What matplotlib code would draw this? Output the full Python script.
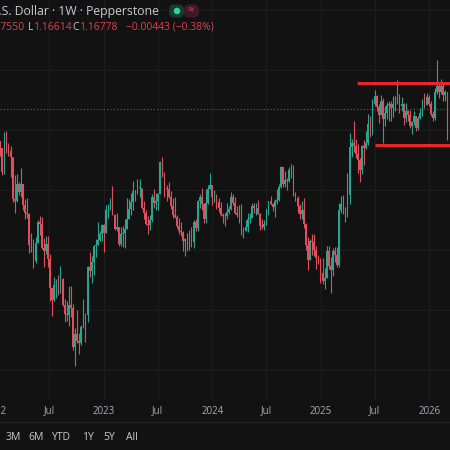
import pandas as pd
import matplotlib.pyplot as plt
import matplotlib.dates as mdates
from matplotlib.patches import FancyBboxPatch, Circle

BG = "#121212"
UP = "#26a690"
DOWN = "#e24f5c"
GRID = "#1d1d1d"
TXT = "#c8cad0"

# weekly EUR/USD candles, first week starts 2022-01-03
first_open = 1.1370

week_close = [
    # 2022
    1.1359, 1.1412, 1.1347, 1.1147, 1.1452, 1.1349, 1.1321, 1.1271, 1.0928, 1.0911,
    1.1050, 1.0983, 1.1048, 1.0877, 1.0808, 1.0796, 1.0545, 1.0551, 1.0411, 1.0562,
    1.0734, 1.0720, 1.0518, 1.0495, 1.0554, 1.0428, 1.0184, 1.0080, 1.0212, 1.0222,
    1.0182, 1.0259, 1.0039, 0.9965, 0.9955, 1.0040, 1.0015, 0.9690, 0.9802, 0.9740,
    0.9722, 0.9862, 0.9965, 0.9959, 1.0355, 1.0326, 1.0398, 1.0535, 1.0540, 1.0585,
    1.0630, 1.0705,
    # 2023
    1.0645, 1.0830, 1.0855, 1.0870, 1.0795, 1.0678, 1.0694, 1.0546, 1.0636, 1.0640,
    1.0672, 1.0760, 1.0840, 1.0902, 1.0992, 1.0990, 1.1020, 1.1020, 1.0850, 1.0805,
    1.0720, 1.0710, 1.0750, 1.0940, 1.0895, 1.0910, 1.0967, 1.1230, 1.1125, 1.1015,
    1.1005, 1.0945, 1.0870, 1.0795, 1.0775, 1.0700, 1.0660, 1.0650, 1.0575, 1.0590,
    1.0510, 1.0595, 1.0565, 1.0730, 1.0685, 1.0910, 1.0940, 1.0880, 1.0760, 1.0895,
    1.1010, 1.1040,
    # 2024
    1.0945, 1.0950, 1.0897, 1.0850, 1.0790, 1.0785, 1.0780, 1.0820, 1.0840, 1.0940,
    1.0890, 1.0810, 1.0790, 1.0837, 1.0645, 1.0655, 1.0693, 1.0760, 1.0770, 1.0870,
    1.0847, 1.0850, 1.0800, 1.0700, 1.0693, 1.0713, 1.0840, 1.0905, 1.0885, 1.0855,
    1.0910, 1.0915, 1.1025, 1.1190, 1.1048, 1.1085, 1.1075, 1.1165, 1.1165, 1.0975,
    1.0937, 1.0867, 1.0797, 1.0835, 1.0720, 1.0545, 1.0418, 1.0577, 1.0567, 1.0500,
    1.0430, 1.0425, 1.0308,
    # 2025
    1.0245, 1.0270, 1.0495, 1.0365, 1.0330, 1.0495, 1.0460, 1.0375, 1.0835, 1.0880,
    1.0815, 1.0830, 1.0960, 1.1360, 1.1395, 1.1365, 1.1300, 1.1250, 1.1165, 1.1365,
    1.1350, 1.1395, 1.1550, 1.1520, 1.1720, 1.1780, 1.1690, 1.1625, 1.1740, 1.1590,
    1.1640, 1.1705, 1.1720, 1.1685, 1.1718, 1.1735, 1.1745, 1.1700, 1.1715, 1.1600,
    1.1655, 1.1625, 1.1535, 1.1565, 1.1620, 1.1515, 1.1600, 1.1640, 1.1740, 1.1710,
    1.1775, 1.1720,
    # 2026
    1.1635, 1.1600, 1.1820, 1.1870, 1.1815, 1.1870, 1.1790, 1.1815, 1.1530,
]

week_high = [
    1.1376, 1.1482, 1.1369, 1.1349, 1.1483, 1.1495, 1.1395, 1.1367, 1.1233, 1.1121,
    1.1137, 1.1070, 1.1185, 1.1053, 1.0925, 1.0936, 1.0810, 1.0642, 1.0593, 1.0607,
    1.0748, 1.0787, 1.0774, 1.0601, 1.0613, 1.0615, 1.0463, 1.0186, 1.0278, 1.0255,
    1.0294, 1.0368, 1.0267, 1.0090, 1.0079, 1.0198, 1.0198, 1.0050, 0.9853, 0.9999,
    0.9809, 0.9875, 1.0093, 0.9976, 1.0364, 1.0481, 1.0448, 1.0545, 1.0594, 1.0737,
    1.0658, 1.0714,
    1.0713, 1.0874, 1.0887, 1.0929, 1.1033, 1.0803, 1.0805, 1.0694, 1.0692, 1.0700,
    1.0760, 1.0930, 1.0925, 1.0973, 1.1075, 1.1000, 1.1095, 1.1092, 1.1007, 1.0905,
    1.0830, 1.0780, 1.0790, 1.0970, 1.1012, 1.0975, 1.0975, 1.1245, 1.1276, 1.1150,
    1.1045, 1.1064, 1.0990, 1.0935, 1.0945, 1.0795, 1.0770, 1.0735, 1.0660, 1.0600,
    1.0640, 1.0670, 1.0695, 1.0750, 1.0756, 1.0915, 1.0965, 1.1017, 1.0890, 1.1008,
    1.1040, 1.1140,
    1.1045, 1.0998, 1.0966, 1.0932, 1.0897, 1.0808, 1.0806, 1.0888, 1.0865, 1.0981,
    1.0964, 1.0942, 1.0865, 1.0876, 1.0885, 1.0690, 1.0753, 1.0812, 1.0811, 1.0895,
    1.0888, 1.0888, 1.0916, 1.0812, 1.0761, 1.0749, 1.0845, 1.0910, 1.0948, 1.0893,
    1.0926, 1.1008, 1.1047, 1.1202, 1.1186, 1.1155, 1.1100, 1.1190, 1.1214, 1.1210,
    1.0985, 1.0951, 1.0880, 1.0905, 1.0937, 1.0725, 1.0610, 1.0595, 1.0630, 1.0630,
    1.0530, 1.0456, 1.0435,
    1.0437, 1.0353, 1.0532, 1.0533, 1.0442, 1.0513, 1.0529, 1.0528, 1.0888, 1.0947,
    1.0955, 1.0857, 1.1144, 1.1473, 1.1424, 1.1573, 1.1425, 1.1380, 1.1265, 1.1375,
    1.1420, 1.1495, 1.1630, 1.1615, 1.1754, 1.1830, 1.1790, 1.1720, 1.1789, 1.1770,
    1.1700, 1.1730, 1.1743, 1.1740, 1.1780, 1.1780, 1.1918, 1.1800, 1.1778, 1.1725,
    1.1728, 1.1670, 1.1668, 1.1575, 1.1655, 1.1620, 1.1615, 1.1680, 1.1760, 1.1805,
    1.1808, 1.1790,
    1.1740, 1.1660, 1.1850, 1.2082, 1.1900, 1.1925, 1.1880, 1.1830, 1.1820,
]

week_low = [
    1.1272, 1.1313, 1.1286, 1.1121, 1.1133, 1.1306, 1.1281, 1.1106, 1.0897, 1.0806,
    1.0900, 1.0961, 1.0945, 1.0836, 1.0758, 1.0766, 1.0471, 1.0483, 1.0349, 1.0389,
    1.0556, 1.0627, 1.0507, 1.0359, 1.0469, 1.0359, 1.0071, 0.9952, 1.0075, 1.0097,
    1.0123, 1.0141, 1.0032, 0.9901, 0.9910, 0.9864, 0.9945, 0.9669, 0.9536, 0.9725,
    0.9632, 0.9705, 0.9852, 0.9730, 0.9899, 1.0271, 1.0222, 1.0289, 1.0444, 1.0569,
    1.0573, 1.0577,
    1.0483, 1.0701, 1.0766, 1.0833, 1.0795, 1.0668, 1.0655, 1.0533, 1.0533, 1.0524,
    1.0516, 1.0711, 1.0760, 1.0788, 1.0832, 1.0910, 1.0965, 1.0940, 1.0845, 1.0760,
    1.0705, 1.0635, 1.0665, 1.0730, 1.0850, 1.0835, 1.0833, 1.0963, 1.1110, 1.0945,
    1.0912, 1.0930, 1.0845, 1.0765, 1.0770, 1.0686, 1.0632, 1.0615, 1.0488, 1.0448,
    1.0495, 1.0500, 1.0522, 1.0516, 1.0655, 1.0655, 1.0850, 1.0830, 1.0723, 1.0722,
    1.0880, 1.1005,
    1.0877, 1.0900, 1.0845, 1.0820, 1.0780, 1.0723, 1.0696, 1.0762, 1.0796, 1.0837,
    1.0873, 1.0801, 1.0774, 1.0724, 1.0622, 1.0601, 1.0665, 1.0650, 1.0724, 1.0765,
    1.0805, 1.0788, 1.0800, 1.0668, 1.0671, 1.0666, 1.0710, 1.0791, 1.0876, 1.0825,
    1.0777, 1.0880, 1.0909, 1.1020, 1.1025, 1.1026, 1.1001, 1.1068, 1.1100, 1.0950,
    1.0907, 1.0810, 1.0761, 1.0760, 1.0682, 1.0497, 1.0335, 1.0423, 1.0460, 1.0452,
    1.0343, 1.0380, 1.0226,
    1.0213, 1.0178, 1.0267, 1.0345, 1.0141, 1.0285, 1.0399, 1.0358, 1.0360, 1.0805,
    1.0797, 1.0733, 1.0778, 1.0880, 1.1275, 1.1315, 1.1265, 1.1145, 1.1065, 1.1130,
    1.1210, 1.1345, 1.1375, 1.1440, 1.1455, 1.1700, 1.1660, 1.1556, 1.1640, 1.1392,
    1.1530, 1.1590, 1.1573, 1.1573, 1.1608, 1.1660, 1.1715, 1.1645, 1.1655, 1.1540,
    1.1570, 1.1575, 1.1520, 1.1470, 1.1540, 1.1490, 1.1500, 1.1590, 1.1615, 1.1680,
    1.1705, 1.1700,
    1.1620, 1.1575, 1.1580, 1.1800, 1.1770, 1.1800, 1.1740, 1.1740, 1.1420,
]

last_price = 1.16778
range_top = 1.189
range_bottom = 1.1375
range_top_start = "2025-05-01"
range_bottom_start = "2025-07-02"

x_ticks = ["2022-01-01", "2022-07-01", "2023-01-01", "2023-07-01", "2024-01-01",
           "2024-07-01", "2025-01-01", "2025-07-01", "2026-01-01"]
x_tick_labels = ["2022", "Jul", "2023", "Jul", "2024", "Jul", "2025", "Jul", "2026"]
price_grid = [0.95, 1.00, 1.05, 1.10, 1.15, 1.20, 1.25]
range_buttons = ["3M", "6M", "YTD", "1Y", "5Y", "All"]
button_x = [5, 28, 52, 82, 103, 126]

dates = pd.date_range("2022-01-03", periods=len(week_close), freq="W-MON")
x = mdates.date2num(dates)
opens = [first_open] + week_close[:-1]
bottoms, heights, colors, highs, lows = [], [], [], [], []
for o, c, h, l in zip(opens, week_close, week_high, week_low):
    bottoms.append(min(o, c))
    heights.append(max(abs(c - o), 0.0007))
    colors.append(UP if c >= o else DOWN)
    highs.append(max(h, o, c))
    lows.append(min(l, o, c))

plt.rcParams["font.family"] = ["Open Sans", "DejaVu Sans"]

fig = plt.figure(figsize=(4.5, 4.5), dpi=100, facecolor=BG)
ax = fig.add_axes([0, 50 / 450, 1, 400 / 450])
ax.set_facecolor(BG)
for s in ax.spines.values():
    s.set_visible(False)
ax.set_xticks([])
ax.set_yticks([])

x0 = mdates.date2num(pd.Timestamp("2022-01-03"))
ax.set_xlim(x0 + 13.5, x0 + 1528)
ax.set_ylim(0.925, 1.2583)

tick_x = mdates.date2num(pd.to_datetime(x_ticks))
for t in tick_x:
    ax.axvline(t, color=GRID, lw=0.8, zorder=0)
for p in price_grid:
    ax.axhline(p, color=GRID, lw=0.8, zorder=0)

ax.axhline(last_price, color="#9a4a3a", lw=0.8, ls=(0, (1, 2)), zorder=1)

ax.vlines(x, lows, highs, colors=colors, lw=0.8, zorder=2)
ax.bar(x, heights, bottom=bottoms, width=5.4, color=colors, linewidth=0, zorder=3)

ax.hlines(range_top, mdates.date2num(pd.Timestamp(range_top_start)), x0 + 1540,
          color="#e8262a", lw=2.2, zorder=4)
ax.hlines(range_bottom, mdates.date2num(pd.Timestamp(range_bottom_start)), x0 + 1540,
          color="#e8262a", lw=2.2, zorder=4)

trans = ax.get_xaxis_transform()
for t, lab in zip(tick_x, x_tick_labels):
    ax.text(t, -11 / 400, lab, transform=trans, ha="center", va="center",
            fontsize=7, color="#a9abb0", clip_on=False)

# overlay in pixel coordinates for header and toolbar
ov = fig.add_axes([0, 0, 1, 1], facecolor="none")
ov.set_xlim(0, 450)
ov.set_ylim(450, 0)
ov.axis("off")

ov.text(159, 11, "Euro / U.S. Dollar · 1W · Pepperstone", ha="right", va="center",
        fontsize=8.8, color=TXT)
ov.add_patch(FancyBboxPatch((169, 4.5), 15, 13, boxstyle="round,pad=0,rounding_size=5",
                            fc="#173a32", ec="none"))
ov.add_patch(FancyBboxPatch((184, 4.5), 15, 13, boxstyle="round,pad=0,rounding_size=5",
                            fc="#3e1a26", ec="none"))
ov.add_patch(Circle((177, 11), 3.3, fc="#2fd0a0", ec="none"))
ov.text(191, 11, "≈", ha="center", va="center", fontsize=8, color="#e0507a")

RED = "#d9434f"
ov.text(24, 27, "H1.17550", ha="right", va="center", fontsize=7.5, color=RED)
ov.text(28, 27, "L", ha="left", va="center", fontsize=7.5, color=TXT)
ov.text(33, 27, "1.16614", ha="left", va="center", fontsize=7.5, color=RED)
ov.text(72, 27, "C", ha="left", va="center", fontsize=7.5, color=TXT)
ov.text(79, 27, "1.16778", ha="left", va="center", fontsize=7.5, color=RED)
ov.text(126, 27, "−0.00443 (−0.38%)", ha="left", va="center", fontsize=7.5, color=RED)

ov.plot([0, 450], [422, 422], color="#262626", lw=0.8)
for bx, lab in zip(button_x, range_buttons):
    ov.text(bx, 438, lab, ha="left", va="center", fontsize=7.5, color=TXT)

fig.savefig("out.png", dpi=100, facecolor=BG)
